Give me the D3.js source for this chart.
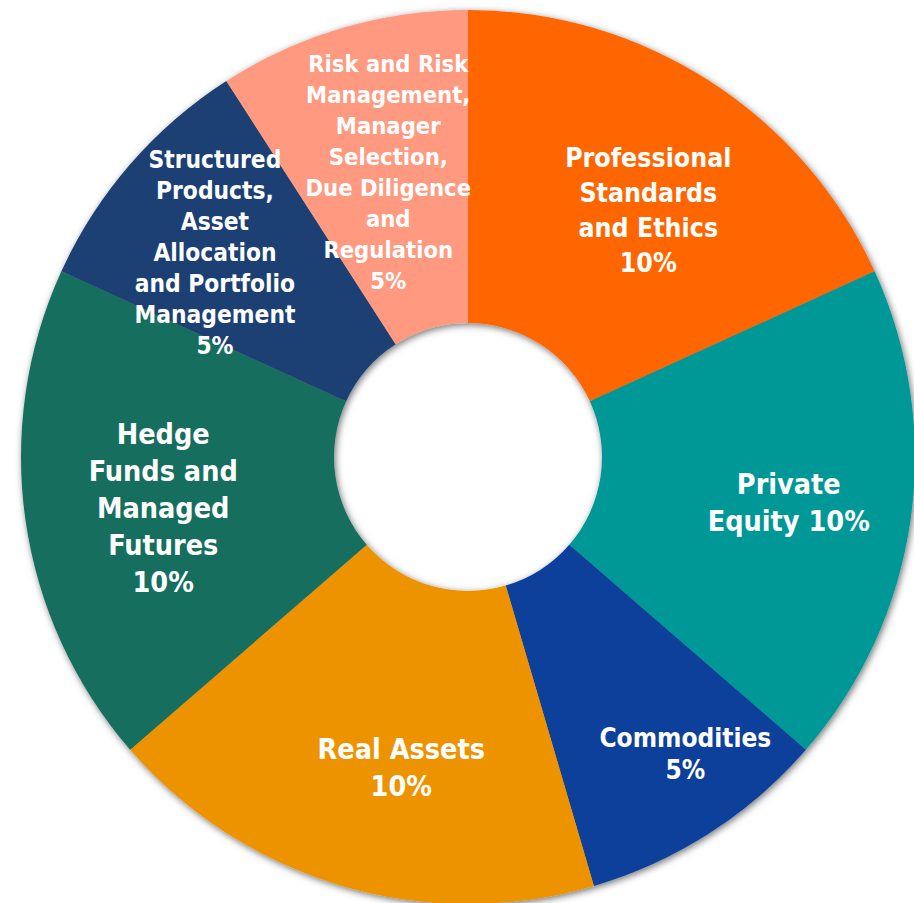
<!DOCTYPE html>
<html>
<head>
<meta charset="utf-8">
<script src="https://cdn.jsdelivr.net/npm/d3@7"></script>
<style>
  html, body { margin: 0; padding: 0; background: #ffffff; }
  svg { display: block; }
  .lbl { font-family: "DejaVu Sans Condensed", "DejaVu Sans", sans-serif; font-stretch: condensed; font-weight: bold; fill: #ffffff; }
</style>
</head>
<body>
<svg id="chart" width="914" height="903"></svg>
<script>
// ---- data ----
const categories = [
  "Professional Standards and Ethics",
  "Private Equity",
  "Commodities",
  "Real Assets",
  "Hedge Funds and Managed Futures",
  "Structured Products, Asset Allocation and Portfolio Management",
  "Risk and Risk Management, Manager Selection, Due Diligence and Regulation"
];
const weights = [10, 10, 5, 10, 10, 5, 5];
const labelLines = [
  ["Professional", "Standards", "and Ethics", "10%"],
  ["Private", "Equity 10%"],
  ["Commodities", "5%"],
  ["Real Assets", "10%"],
  ["Hedge", "Funds and", "Managed", "Futures", "10%"],
  ["Structured", "Products,", "Asset", "Allocation", "and Portfolio", "Management", "5%"],
  ["Risk and Risk", "Management,", "Manager", "Selection,", "Due Diligence", "and", "Regulation", "5%"]
];
const colors = ["#FF6600", "#009797", "#0A3F9B", "#EE9300", "#196E5E", "#1F3F73", "#FF9980"];

// ---- layout (not data) ----
const cx = 468, cy = 457, outerR = 447, innerR = 134, labelR = 315;
const labelNudge = [[10, 18], [9, 1], [47, 32], [22, 8], [7, 6], [-15, 2], [9, 17]];
const labelFont = [26.5, 28.5, 26, 28.5, 28.5, 24.3, 23.6];
const labelLead = [35, 37, 32, 37, 37, 31, 31];

const rows = categories.map((c, i) => ({ name: c, value: weights[i], lines: labelLines[i], color: colors[i], i }));

const svg = d3.select("#chart");
const defs = svg.append("defs");
const f = defs.append("filter").attr("id", "shadow").attr("x", "-10%").attr("y", "-10%").attr("width", "120%").attr("height", "120%");
f.append("feDropShadow").attr("dx", 1.5).attr("dy", 2).attr("stdDeviation", 3.5).attr("flood-color", "#000").attr("flood-opacity", 0.55);

const g = svg.append("g").attr("transform", `translate(${cx},${cy})`);

const pie = d3.pie().value(d => d.value).sort(null);
const arc = d3.arc().innerRadius(innerR).outerRadius(outerR);
const labelArc = d3.arc().innerRadius(labelR).outerRadius(labelR);
const arcs = pie(rows);

const ring = g.append("g").attr("filter", "url(#shadow)");
ring.selectAll("path").data(arcs).join("path")
  .attr("d", arc)
  .attr("fill", d => d.data.color);

const labels = g.append("g");
arcs.forEach(d => {
  const i = d.data.i;
  const [x0, y0] = labelArc.centroid(d);
  const x = x0 + labelNudge[i][0], y = y0 + labelNudge[i][1];
  const fs = labelFont[i];
  const lh = labelLead[i];
  const n = d.data.lines.length;
  const t = labels.append("text").attr("class", "lbl")
    .attr("text-anchor", "middle")
    .style("font-size", fs + "px");
  d.data.lines.forEach((line, k) => {
    t.append("tspan")
      .attr("x", x)
      .attr("y", y - (n - 1) / 2 * lh + k * lh)
      .attr("dy", "0.35em")
      .text(line);
  });
});
</script>
</body>
</html>
